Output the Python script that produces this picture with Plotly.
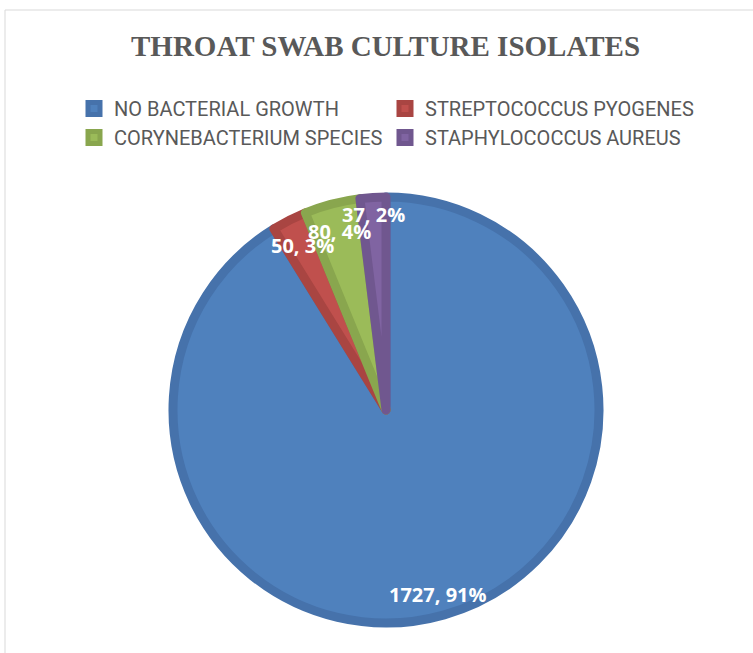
import math
import plotly.graph_objects as go

categories = ["NO BACTERIAL GROWTH", "STREPTOCOCCUS PYOGENES",
              "CORYNEBACTERIUM SPECIES", "STAPHYLOCOCCUS AUREUS"]
values = [1727, 50, 80, 37]
colors = ["#4F81BD", "#C0504D", "#9BBB59", "#8064A2"]
edge_colors = ["#4672AB", "#A94542", "#89A64E", "#70578F"]
label_radius = [0.90, 0.865, 0.865, 0.92]

W, H = 753, 653
cx_px, cy_px = 386, 410
R = 213

dom_x = [(cx_px - R) / W, (cx_px + R) / W]
dom_y = [(H - cy_px - R) / H, (H - cy_px + R) / H]

fig = go.Figure()
fig.add_trace(go.Pie(
    labels=categories, values=values, sort=False, direction="clockwise",
    rotation=0, textinfo="none", hoverinfo="label+value+percent",
    marker=dict(colors=colors, line=dict(color=edge_colors, width=9)),
    domain=dict(x=dom_x, y=dom_y), showlegend=True,
))

total = sum(values)
cum = 0
annotations = []
for v, f in zip(values, label_radius):
    theta = 2 * math.pi * (cum + v / 2) / total
    cum += v
    x = (cx_px + R * f * math.sin(theta)) / W
    y = (H - cy_px + R * f * math.cos(theta)) / H
    pct = round(100 * v / total)
    annotations.append(dict(
        x=x, y=y, xref="paper", yref="paper", showarrow=False,
        text=f"<b>{v}, {pct}%</b>",
        font=dict(family="Open Sans, Lato, sans-serif", size=20, color="white"),
        xanchor="center", yanchor="middle",
    ))

fig.update_layout(
    width=W, height=H,
    margin=dict(l=0, r=0, t=0, b=0),
    paper_bgcolor="white", plot_bgcolor="white",
    title=dict(
        text="<b>THROAT SWAB CULTURE ISOLATES</b>",
        x=0.512, xanchor="center", y=1 - 46 / H, yanchor="middle",
        font=dict(family="Liberation Serif, Times New Roman, serif", size=29, color="#595959"),
    ),
    legend=dict(
        orientation="h", x=74 / W, xanchor="left", y=1 - 89 / H, yanchor="top",
        entrywidth=266, entrywidthmode="pixels", itemwidth=30,
        font=dict(family="Roboto, sans-serif", size=20, color="#595959"),
        traceorder="normal", bgcolor="rgba(0,0,0,0)",
    ),
    annotations=annotations,
    shapes=[dict(type="rect", xref="paper", yref="paper",
                 x0=5 / W, x1=1.05, y0=-0.05, y1=1 - 10 / H,
                 line=dict(color="#D9D9D9", width=1), fillcolor="rgba(0,0,0,0)", layer="below")],
)

fig.write_html("out.html", config={"displayModeBar": False},
               post_script="document.body.style.margin='0px';")
